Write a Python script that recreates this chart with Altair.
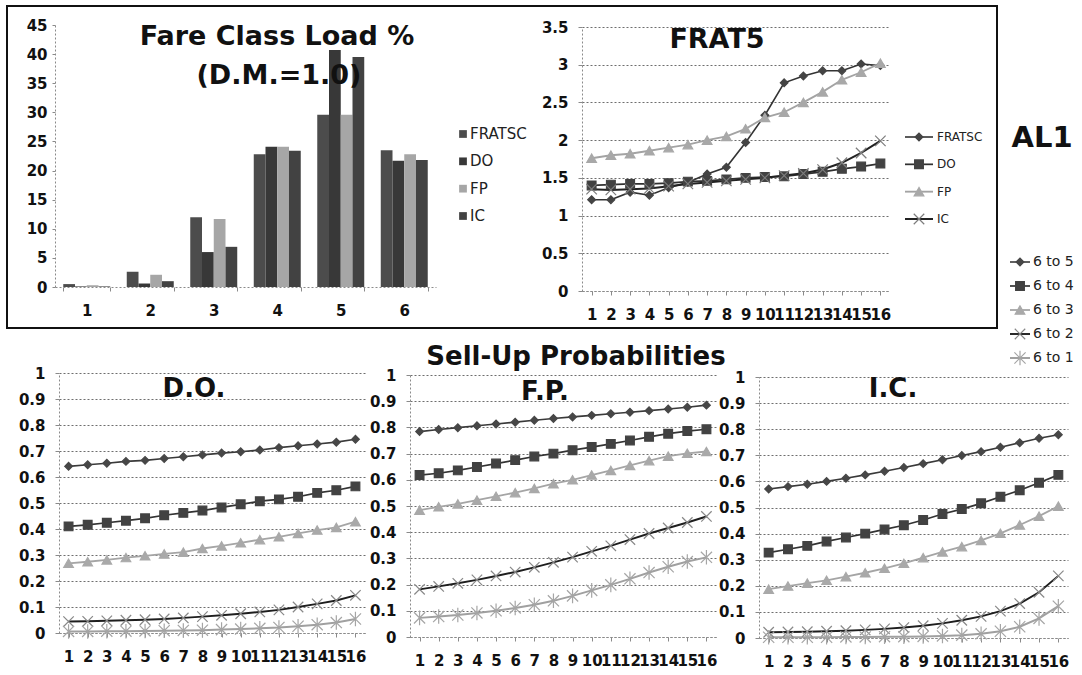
import altair as alt
import pandas as pd

W, H = 1082, 675

# ---------------- data ----------------
fare_classes = ["1", "2", "3", "4", "5", "6"]
load_names = ["FRATSC", "DO", "FP", "IC"]
load_fratsc = [0.5, 2.6, 12.0, 22.8, 29.6, 23.5]
load_do = [0.1, 0.6, 6.0, 24.1, 40.7, 21.7]
load_fp = [0.3, 2.1, 11.7, 24.1, 29.6, 22.8]
load_ic = [0.1, 1.0, 6.9, 23.4, 39.5, 21.8]

periods = list(range(1, 17))
frat_names = ["FRATSC", "DO", "FP", "IC"]
frat_fratsc = [1.21, 1.21, 1.31, 1.27, 1.37, 1.44, 1.55, 1.64, 1.97, 2.33, 2.76, 2.85, 2.92, 2.92, 3.01, 2.99]
frat_do = [1.40, 1.41, 1.42, 1.42, 1.43, 1.45, 1.46, 1.48, 1.50, 1.51, 1.52, 1.55, 1.58, 1.62, 1.65, 1.69]
frat_fp = [1.76, 1.80, 1.82, 1.86, 1.90, 1.94, 2.00, 2.05, 2.15, 2.30, 2.37, 2.50, 2.64, 2.80, 2.90, 3.02]
frat_ic = [1.35, 1.34, 1.35, 1.36, 1.39, 1.42, 1.44, 1.46, 1.48, 1.50, 1.53, 1.56, 1.61, 1.70, 1.83, 1.99]

sell_names = ["6 to 5", "6 to 4", "6 to 3", "6 to 2", "6 to 1"]
do_6to5 = [0.641, 0.647, 0.653, 0.660, 0.664, 0.671, 0.678, 0.685, 0.692, 0.697, 0.704, 0.713, 0.720, 0.727, 0.734, 0.745]
do_6to4 = [0.410, 0.416, 0.424, 0.432, 0.441, 0.453, 0.462, 0.471, 0.483, 0.495, 0.507, 0.514, 0.524, 0.539, 0.549, 0.564]
do_6to3 = [0.268, 0.274, 0.281, 0.290, 0.297, 0.304, 0.311, 0.325, 0.335, 0.347, 0.359, 0.370, 0.383, 0.396, 0.406, 0.428]
do_6to2 = [0.044, 0.045, 0.047, 0.049, 0.051, 0.054, 0.058, 0.063, 0.068, 0.074, 0.081, 0.089, 0.100, 0.112, 0.125, 0.145]
do_6to1 = [0.006, 0.006, 0.007, 0.007, 0.008, 0.009, 0.010, 0.011, 0.013, 0.015, 0.018, 0.021, 0.026, 0.032, 0.040, 0.054]
fp_6to5 = [0.784, 0.792, 0.799, 0.806, 0.813, 0.820, 0.827, 0.834, 0.840, 0.846, 0.852, 0.858, 0.864, 0.870, 0.877, 0.885]
fp_6to4 = [0.618, 0.625, 0.636, 0.649, 0.662, 0.675, 0.689, 0.700, 0.713, 0.725, 0.737, 0.750, 0.764, 0.776, 0.786, 0.793]
fp_6to3 = [0.484, 0.497, 0.508, 0.522, 0.537, 0.551, 0.567, 0.585, 0.600, 0.618, 0.636, 0.655, 0.673, 0.690, 0.701, 0.708]
fp_6to2 = [0.182, 0.193, 0.205, 0.218, 0.233, 0.248, 0.266, 0.285, 0.305, 0.327, 0.348, 0.372, 0.395, 0.416, 0.437, 0.460]
fp_6to1 = [0.073, 0.078, 0.084, 0.092, 0.100, 0.111, 0.123, 0.138, 0.157, 0.178, 0.199, 0.222, 0.246, 0.268, 0.288, 0.304]
ic_6to5 = [0.571, 0.580, 0.589, 0.600, 0.612, 0.625, 0.639, 0.653, 0.668, 0.683, 0.699, 0.714, 0.731, 0.748, 0.765, 0.779]
ic_6to4 = [0.327, 0.340, 0.353, 0.370, 0.385, 0.400, 0.416, 0.432, 0.452, 0.475, 0.494, 0.516, 0.541, 0.566, 0.595, 0.625]
ic_6to3 = [0.187, 0.199, 0.210, 0.221, 0.235, 0.250, 0.267, 0.286, 0.308, 0.330, 0.350, 0.374, 0.401, 0.433, 0.467, 0.505]
ic_6to2 = [0.022, 0.023, 0.024, 0.026, 0.028, 0.031, 0.035, 0.040, 0.047, 0.056, 0.068, 0.083, 0.103, 0.132, 0.175, 0.238]
ic_6to1 = [0.003, 0.003, 0.003, 0.003, 0.004, 0.004, 0.005, 0.005, 0.006, 0.008, 0.011, 0.016, 0.026, 0.043, 0.075, 0.122]

load_ticks = [0, 5, 10, 15, 20, 25, 30, 35, 40, 45]
frat_ticks = [0, 0.5, 1, 1.5, 2, 2.5, 3, 3.5]
sell_ticks = [0, 0.1, 0.2, 0.3, 0.4, 0.5, 0.6, 0.7, 0.8, 0.9, 1]

title_load = ["Fare Class Load %", "(D.M.=1.0)"]
title_frat = ["FRAT5"]
title_sell = ["Sell-Up Probabilities"]
panel_titles = ["D.O.", "F.P.", "I.C."]
side_label = ["AL1"]

# ---------------- styles ----------------
FONT = "DejaVu Sans"
LABEL_SIZE = 15
X_PATH = "M-1,-1L1,1M-1,1L1,-1"
AST_PATH = "M-1,-1L1,1M-1,1L1,-1M0,-1.3L0,1.3"

load_colors = ["#4c4c4c", "#383838", "#a6a6a6", "#424242"]

frat_line_colors = ["#333333", "#303030", "#a3a3a3", "#222222"]
frat_mark_colors = ["#444444", "#424242", "#a8a8a8", "#7d7d7d"]
frat_widths = [1.6, 2.0, 1.6, 2.0]
frat_shapes = ["diamond", "square", "triangle-up", X_PATH]
frat_sizes = [60, 110, 60, 70]

sell_line_colors = ["#3a3a3a", "#333333", "#a5a5a5", "#1e1e1e", "#a0a0a0"]
sell_mark_colors = ["#474747", "#424242", "#a9a9a9", "#888888", "#a5a5a5"]
sell_widths = [1.6, 2.0, 1.6, 2.6, 1.6]
sell_shapes = ["diamond", "square", "triangle-up", X_PATH, AST_PATH]
sell_sizes = [60, 125, 60, 70, 60]


def long_frame(names, arrays):
    rows = []
    for n, arr in zip(names, arrays):
        for t, v in zip(periods, arr):
            rows.append({"t": t, "s": n, "v": v})
    return pd.DataFrame(rows)


def y_axis(x0, values, grid, tick=4, pad=10):
    return alt.Axis(orient="left", offset=-x0, values=values, grid=grid, format="~g",
                    title=None, tickSize=tick, labelPadding=pad,
                    labelFont=FONT, labelFontSize=LABEL_SIZE, labelFontWeight="bold",
                    labelColor="#111111")


def x_axis(y0, values, fmt=None, band=False):
    kw = dict(orient="bottom", offset=y0 - H, grid=False, title=None, tickSize=4,
              labelPadding=12, labelOverlap=False, labelFlush=False, labelAngle=0,
              labelFont=FONT, labelFontSize=LABEL_SIZE, labelFontWeight="bold",
              labelColor="#111111")
    if values is not None:
        kw["values"] = values
    if fmt:
        kw["format"] = fmt
    if band:
        kw["tickBand"] = "extent"
    return alt.Axis(**kw)


def text_layer(texts, x, y, size, weight="bold", align="center", color="#111111"):
    return alt.Chart(pd.DataFrame({"txt": texts})).mark_text(
        font=FONT, fontSize=size, fontWeight=weight, align=align, baseline="middle", color=color
    ).encode(text="txt:N", x=alt.value(x), y=alt.value(y))


def line_panel(df, names, line_colors, mark_colors, widths, shapes, sizes,
               xr, yr, ydom, yvals):
    xs = alt.Scale(domain=[0.5, 16.5], range=xr, nice=False, zero=False)
    ys = alt.Scale(domain=ydom, range=yr, nice=False, zero=False)
    base = alt.Chart(df).encode(
        x=alt.X("t:Q", scale=xs, axis=x_axis(yr[0], periods, fmt="d")),
        y=alt.Y("v:Q", scale=ys, axis=y_axis(xr[0], yvals, True)),
    )
    lines = base.mark_line().encode(
        color=alt.Color("s:N", scale=alt.Scale(domain=names, range=line_colors), legend=None),
        strokeWidth=alt.StrokeWidth("s:N", scale=alt.Scale(domain=names, range=widths), legend=None),
    )
    pts = base.mark_point(filled=True, opacity=1, strokeWidth=1.2).encode(
        shape=alt.Shape("s:N", scale=alt.Scale(domain=names, range=shapes), legend=None),
        fill=alt.Fill("s:N", scale=alt.Scale(domain=names, range=mark_colors), legend=None),
        stroke=alt.Stroke("s:N", scale=alt.Scale(domain=names, range=mark_colors), legend=None),
        size=alt.Size("s:N", scale=alt.Scale(domain=names, range=sizes), legend=None),
    )
    return alt.layer(lines, pts)


def line_legend(names, line_colors, mark_colors, widths, shapes, sizes,
                yrange, x_line, x_mark, x_text, font_size):
    df = pd.DataFrame({"s": names})
    ysc = alt.Scale(type="point", domain=names, range=yrange, padding=0)
    base = alt.Chart(df).encode(y=alt.Y("s:N", scale=ysc, axis=None))
    ln = base.mark_rule().encode(
        x=alt.value(x_line[0]), x2=alt.value(x_line[1]),
        color=alt.Color("s:N", scale=alt.Scale(domain=names, range=line_colors), legend=None),
        strokeWidth=alt.StrokeWidth("s:N", scale=alt.Scale(domain=names, range=widths), legend=None),
    )
    pt = base.mark_point(filled=True, opacity=1, strokeWidth=1.2).encode(
        x=alt.value(x_mark),
        shape=alt.Shape("s:N", scale=alt.Scale(domain=names, range=shapes), legend=None),
        fill=alt.Fill("s:N", scale=alt.Scale(domain=names, range=mark_colors), legend=None),
        stroke=alt.Stroke("s:N", scale=alt.Scale(domain=names, range=mark_colors), legend=None),
        size=alt.Size("s:N", scale=alt.Scale(domain=names, range=sizes), legend=None),
    )
    tx = base.mark_text(font=FONT, fontSize=font_size, align="left", baseline="middle",
                        color="#222222").encode(x=alt.value(x_text), text="s:N")
    return alt.layer(ln, pt, tx)


# ---------------- frame ----------------
frame = alt.Chart(pd.DataFrame({"a": [0]})).mark_rect(
    fill="white", fillOpacity=0, stroke="#111111", strokeWidth=2
).encode(x=alt.value(7), x2=alt.value(997), y=alt.value(6), y2=alt.value(328))

# ---------------- bar panel ----------------
load_rows = []
for n, arr in zip(load_names, [load_fratsc, load_do, load_fp, load_ic]):
    for c, v in zip(fare_classes, arr):
        load_rows.append({"cls": c, "s": n, "v": v})
load_df = pd.DataFrame(load_rows)

bars = alt.Chart(load_df).mark_bar().encode(
    x=alt.X("cls:N", sort=fare_classes,
            scale=alt.Scale(domain=fare_classes, range=[55, 436], paddingInner=0.26, paddingOuter=0.13),
            axis=x_axis(287, None, band=True)),
    xOffset=alt.XOffset("s:N", sort=load_names,
                        scale=alt.Scale(domain=load_names, paddingInner=0, paddingOuter=0)),
    y=alt.Y("v:Q", scale=alt.Scale(domain=[0, 45], range=[287, 25], nice=False, zero=False),
            axis=y_axis(55, load_ticks, False, tick=3, pad=5)),
    color=alt.Color("s:N", scale=alt.Scale(domain=load_names, range=load_colors), legend=None),
)

bar_leg_df = pd.DataFrame({"s": load_names})
bar_leg_base = alt.Chart(bar_leg_df).encode(
    y=alt.Y("s:N", scale=alt.Scale(type="point", domain=load_names, range=[134, 216], padding=0), axis=None)
)
bar_leg = alt.layer(
    bar_leg_base.mark_square(size=60, opacity=1).encode(
        x=alt.value(463),
        color=alt.Color("s:N", scale=alt.Scale(domain=load_names, range=load_colors), legend=None)),
    bar_leg_base.mark_text(font=FONT, fontSize=15, align="left", baseline="middle",
                           color="#222222").encode(x=alt.value(470), text="s:N"),
)

# ---------------- FRAT5 panel ----------------
frat_df = long_frame(frat_names, [frat_fratsc, frat_do, frat_fp, frat_ic])
frat_panel = line_panel(frat_df, frat_names, frat_line_colors, frat_mark_colors, frat_widths,
                        frat_shapes, frat_sizes, [582, 890], [291, 27], [0, 3.5], frat_ticks)
frat_leg = line_legend(frat_names, frat_line_colors, frat_mark_colors, frat_widths, frat_shapes,
                       frat_sizes, [137, 219], (905, 933), 919, 937, 12)

# ---------------- sell-up panels ----------------
do_df = long_frame(sell_names, [do_6to5, do_6to4, do_6to3, do_6to2, do_6to1])
fp_df = long_frame(sell_names, [fp_6to5, fp_6to4, fp_6to3, fp_6to2, fp_6to1])
ic_df = long_frame(sell_names, [ic_6to5, ic_6to4, ic_6to3, ic_6to2, ic_6to1])

do_panel = line_panel(do_df, sell_names, sell_line_colors, sell_mark_colors, sell_widths,
                      sell_shapes, sell_sizes, [59, 365], [633, 373], [0, 1], sell_ticks)
fp_panel = line_panel(fp_df, sell_names, sell_line_colors, sell_mark_colors, sell_widths,
                      sell_shapes, sell_sizes, [410, 716], [637, 375], [0, 1], sell_ticks)
ic_panel = line_panel(ic_df, sell_names, sell_line_colors, sell_mark_colors, sell_widths,
                      sell_shapes, sell_sizes, [759, 1068], [638, 377], [0, 1], sell_ticks)
sell_leg = line_legend(sell_names, sell_line_colors, sell_mark_colors, sell_widths, sell_shapes,
                       sell_sizes, [262, 358], (1010, 1030), 1020, 1033, 14)

# ---------------- texts ----------------
texts = [
    text_layer(title_load[:1], 277, 37, 27),
    text_layer(title_load[1:], 279, 76, 27),
    text_layer(title_frat, 717, 40, 27),
    text_layer(title_sell, 576, 357, 26),
    text_layer(panel_titles[:1], 194, 389, 26),
    text_layer(panel_titles[1:2], 545, 392, 26),
    text_layer(panel_titles[2:], 893, 389, 26),
    text_layer(side_label, 1042, 138, 29),
]

chart = alt.layer(
    frame, bars, bar_leg, frat_panel, frat_leg, do_panel, fp_panel, ic_panel, sell_leg, *texts
).resolve_scale(
    x="independent", y="independent", color="independent", fill="independent",
    stroke="independent", shape="independent", size="independent", strokeWidth="independent",
    xOffset="independent",
).resolve_axis(
    x="independent", y="independent"
).properties(
    width=W, height=H, autosize=alt.AutoSizeParams(type="none"), padding=0, background="white"
).configure_view(
    strokeWidth=0
).configure_axis(
    labelFont=FONT, labelFontSize=LABEL_SIZE, labelFontWeight="bold", labelColor="#111111",
    domainColor="#8a8a8a", domainDash=[2, 2], tickColor="#8a8a8a",
    gridColor="#6e6e6e", gridDash=[2, 2], gridWidth=1,
)

chart.save("out.html", embed_options={"renderer": "svg", "actions": False})
